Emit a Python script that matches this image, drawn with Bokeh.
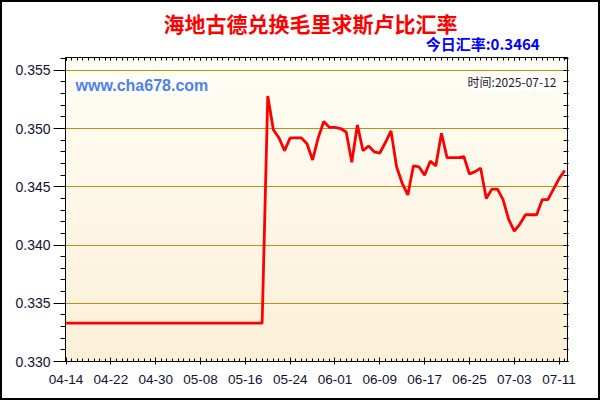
import numpy as np
import pandas as pd
from bokeh.plotting import figure
from bokeh.layouts import column
from bokeh.core.properties import value
from bokeh.models import (FixedTicker, DatetimeTickFormatter, DatetimeAxis, LinearAxis,
                          SingleIntervalTicker, NumeralTickFormatter, Label, Range1d)
from bokeh.embed import file_html
from bokeh.resources import INLINE

# ---- data ----
start_date = "2025-04-14"
dates = pd.date_range(start_date, periods=90, freq="D")
rates = [
    0.3333, 0.3333, 0.3333, 0.3333, 0.3333, 0.3333, 0.3333, 0.3333, 0.3333, 0.3333,
    0.3333, 0.3333, 0.3333, 0.3333, 0.3333, 0.3333, 0.3333, 0.3333, 0.3333, 0.3333,
    0.3333, 0.3333, 0.3333, 0.3333, 0.3333, 0.3333, 0.3333, 0.3333, 0.3333, 0.3333,
    0.3333, 0.3333, 0.3333, 0.3333, 0.3333, 0.3333,
    0.3528, 0.3499, 0.3492, 0.3481, 0.3492, 0.3492, 0.3492, 0.3487, 0.3473, 0.3492,
    0.3506, 0.3501, 0.3501, 0.3500, 0.3497, 0.3471, 0.3503, 0.3481, 0.3485, 0.3480,
    0.3479, 0.3488, 0.3498, 0.3467, 0.3453, 0.3443, 0.3468, 0.3467, 0.3460, 0.3472,
    0.3468, 0.3496, 0.3475, 0.3475, 0.3475, 0.3476, 0.3461, 0.3463, 0.3466, 0.3440,
    0.3448, 0.3448, 0.3439, 0.3422, 0.3412, 0.3418, 0.3426, 0.3426, 0.3426, 0.3439,
    0.3439, 0.3448, 0.3457, 0.3464,
]
tick_labels = ["04-14", "04-22", "04-30", "05-08", "05-16", "05-24",
               "06-01", "06-09", "06-17", "06-25", "07-03", "07-11"]
title_text = "海地古德兑换毛里求斯卢比汇率"
rate_text = "今日汇率:0.3464"
site_text = "www.cha678.com"
time_text = "时间:2025-07-12"
y_min, y_max = 0.330, 0.3561

def ms(ts):
    return pd.Timestamp(ts).value // 10**6

day_ms = 86400000
x_ms = [ms(d) for d in dates]
major_ticks = [ms("2025-" + t) for t in tick_labels]
x_start = x_ms[0] - day_ms * 0.1
x_end = x_ms[-1] + day_ms * 0.5

W = 596
HEAD_H = 53
MAIN_H = 343

# ---- header (titles) ----
head = figure(width=W, height=HEAD_H, x_range=Range1d(0, W), y_range=Range1d(0, HEAD_H),
              x_axis_location=None, y_axis_location=None,
              output_backend="svg", toolbar_location=None,
              min_border=0, min_border_left=0, min_border_right=0,
              min_border_top=0, min_border_bottom=0)
head.grid.visible = False
head.outline_line_color = None
head.background_fill_color = "white"
head.border_fill_color = "white"
head.text(x=[291], y=[33], text=[title_text], text_font=value("Noto Sans CJK SC"),
          text_font_style="bold", text_font_size="21px", text_color="#ff0000",
          text_align="center", text_baseline="middle")
head.text(x=[563], y=[12], text=[rate_text], text_font=value("Noto Sans CJK SC"),
          text_font_style="bold", text_font_size="15px", text_color="#0000ff",
          text_align="right", text_baseline="middle")

# ---- main chart ----
p = figure(width=W, height=MAIN_H, x_axis_type="datetime",
           x_range=Range1d(x_start, x_end), y_range=Range1d(y_min, y_max),
           output_backend="svg", toolbar_location=None,
           min_border_left=63, min_border_right=31, min_border_top=2, min_border_bottom=37)
p.background_fill_color = "#fffcf0"
p.border_fill_color = "white"
p.outline_line_color = "black"

# gradient background
n = 256
top = np.array([255, 254, 246]); bot = np.array([252, 240, 216])
img = np.empty((n, 1), dtype=np.uint32)
view = img.view(dtype=np.uint8).reshape((n, 1, 4))
for i in range(n):
    t = i / (n - 1)
    c = bot + (top - bot) * t
    view[i, 0, 0:3] = c.astype(np.uint8)
    view[i, 0, 3] = 255
p.image_rgba(image=[img], x=x_start, y=y_min, dw=x_end - x_start, dh=y_max - y_min,
             level="image")

xticker = FixedTicker(ticks=major_ticks, minor_ticks=x_ms)
fmt = DatetimeTickFormatter(days="%m-%d", months="%m-%d", hours="%m-%d", years="%m-%d")

ax = p.xaxis[0]
ax.ticker = xticker
ax.formatter = fmt
ax.major_tick_in = 4
ax.major_tick_out = 3
ax.minor_tick_in = 3
ax.minor_tick_out = 0
ax.major_label_text_font = "Liberation Sans"
ax.major_label_text_font_size = "13.5px"
ax.major_label_text_color = "#111133"
ax.major_label_standoff = 10
ax.axis_line_color = "black"

top_ax = DatetimeAxis(ticker=xticker, formatter=fmt)
top_ax.major_label_text_font_size = "1px"
top_ax.major_label_text_color = None
top_ax.major_tick_in = 3
top_ax.major_tick_out = 0
top_ax.minor_tick_in = 3
top_ax.minor_tick_out = 0
top_ax.major_label_standoff = 0
p.add_layout(top_ax, "above")

yticker = SingleIntervalTicker(interval=0.005, num_minor_ticks=5)
ay = p.yaxis[0]
ay.ticker = yticker
ay.formatter = NumeralTickFormatter(format="0.000")
ay.major_tick_out = 12
ay.major_tick_in = 0
ay.minor_tick_out = 5
ay.minor_tick_in = 0
ay.major_label_text_font = "Liberation Sans"
ay.major_label_text_font_size = "14px"
ay.major_label_text_color = "#111133"
ay.major_label_standoff = 3

right_ax = LinearAxis(ticker=yticker)
right_ax.major_label_text_font_size = "1px"
right_ax.major_label_text_color = None
right_ax.major_tick_in = 4
right_ax.major_tick_out = 1
right_ax.minor_tick_in = 4
right_ax.minor_tick_out = 1
right_ax.major_label_standoff = 0
p.add_layout(right_ax, "right")

p.xgrid.visible = False
p.ygrid.ticker = yticker
p.ygrid.grid_line_color = "#c09010"
p.ygrid.grid_line_width = 1

p.line(x=x_ms, y=rates, line_color="#ff0000", line_width=2.8)

p.add_layout(Label(x=10, y=276, x_units="screen", y_units="screen", text=site_text,
                   text_font="Liberation Sans", text_font_style="bold", text_font_size="16px",
                   text_color="#5080f0", text_align="left", text_baseline="middle",
                   background_fill_color="white"))
p.add_layout(Label(x=491, y=280, x_units="screen", y_units="screen", text=time_text,
                   text_font="Noto Sans CJK SC", text_font_size="12px",
                   text_color="#222222", text_align="right", text_baseline="middle",
                   background_fill_color="white"))

layout = column(head, p, spacing=0, styles={"border": "2px solid black"})
open("out.html", "w").write(file_html(layout, INLINE))
